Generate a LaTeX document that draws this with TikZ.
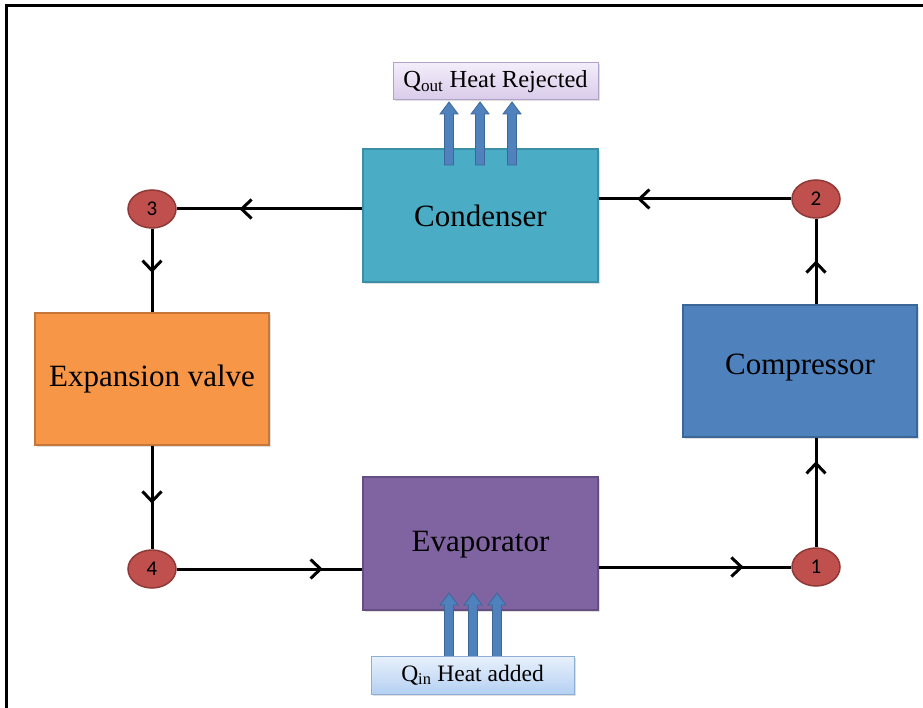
\documentclass[tikz,border=0pt]{standalone}
\usepackage{fontspec}
\setmainfont{Liberation Serif}
\newfontfamily\numfont{Carlito}
\usetikzlibrary{arrows.meta,decorations.markings,shadows,shapes.geometric}
\definecolor{condfill}{HTML}{4BACC6}
\definecolor{condline}{HTML}{3A8FA6}
\definecolor{compfill}{HTML}{4F81BD}
\definecolor{compline}{HTML}{3B6698}
\definecolor{expfill}{HTML}{F79646}
\definecolor{expline}{HTML}{C7763A}
\definecolor{evapfill}{HTML}{8064A2}
\definecolor{evapline}{HTML}{654E82}
\definecolor{ptfill}{HTML}{C0504D}
\definecolor{ptline}{HTML}{8E3A38}
\definecolor{qoutA}{HTML}{F3EDFA}
\definecolor{qoutB}{HTML}{D8CBEA}
\definecolor{qoutline}{HTML}{B3A2C7}
\definecolor{qinA}{HTML}{E8F1FC}
\definecolor{qinB}{HTML}{B5D0F2}
\definecolor{qinline}{HTML}{8EAED6}
\definecolor{harrow}{HTML}{4F81BD}
\definecolor{harrowline}{HTML}{3D6796}
\tikzset{
  unitbox/.style={draw, line width=1.2pt, minimum width=235pt, minimum height=133pt,
    font=\fontsize{31}{36}\selectfont, drop shadow={shadow xshift=2pt, shadow yshift=-2pt, opacity=0.25}},
  pt/.style={ellipse, draw=ptline, fill=ptfill, line width=1.5pt, minimum width=48pt, minimum height=38pt,
    inner sep=0pt, font=\numfont\fontsize{21}{24}\selectfont},
  qbox/.style={draw, line width=1pt, inner sep=0pt,
    drop shadow={shadow xshift=1.5pt, shadow yshift=-1.5pt, opacity=0.25}},
  flow/.style={line width=3pt, postaction={decorate},
    decoration={markings, mark=at position #1 with {\arrow{Straight Barb[length=10pt,width=19pt,line width=3pt]}}}},
  heatarrow/.style={fill=harrow, draw=harrowline, line width=0.8pt}
}
\begin{document}
\begin{tikzpicture}[x=1pt,y=-1pt]
\useasboundingbox (0,0) rectangle (923,708);
\fill[white] (0,0) rectangle (923,708);
\draw[line width=3pt] (6,720) -- (6,6) -- (940,6);

% main units
\node[unitbox, fill=condfill, draw=condline] (cond) at (480.5,215.5) {Condenser};
\node[unitbox, fill=compfill, draw=compline, minimum width=234pt, minimum height=132pt, text depth=14pt] (comp) at (800,371) {Compressor};
\node[unitbox, fill=expfill, draw=expline, minimum width=234pt, minimum height=132pt] (exp) at (152,379) {Expansion valve};
\node[unitbox, fill=evapfill, draw=evapline, text depth=4pt] (evap) at (480.5,543.5) {Evaporator};

% state points
\node[pt] (p3) at (152,209) {3};
\node[pt] (p2) at (816,199) {2};
\node[pt] (p4) at (152,569) {4};
\node[pt] (p1) at (816,567) {1};

% flow lines
\draw[flow=123pt] (p3 -| cond.west) -- (p3.east);
\draw[flow=154pt] (p2.west) -- (p2 -| cond.east);
\draw[flow=44pt] (p3.south) -- (exp.north);
\draw[flow=58pt] (exp.south) -- (p4.north);
\draw[flow=146pt] (p4.east) -- (p4 -| evap.west);
\draw[flow=145pt] (p1 -| evap.east) -- (p1.west);
\draw[flow=86pt] (p1.north) -- (p1 |- comp.south);
\draw[flow=44pt] (p2 |- comp.north) -- (p2.south);

% heat rejected arrows
\foreach \x in {449,480,512}
  \draw[heatarrow] (\x-4.5,165) -- (\x-4.5,114) -- (\x-9,114) -- (\x,102) -- (\x+9,114) -- (\x+4.5,114) -- (\x+4.5,165) -- cycle;
\node[qbox, draw=qoutline, top color=qoutA, bottom color=qoutB, minimum width=205pt, minimum height=37pt,
  font=\fontsize{24.5}{28}\selectfont] (qout) at (495.5,81.5)
  {Q\textsubscript{out} Heat Rejected};

% heat added arrows
\foreach \x in {449,473,497}
  \draw[heatarrow] (\x-4.5,657) -- (\x-4.5,605) -- (\x-9,605) -- (\x,593) -- (\x+9,605) -- (\x+4.5,605) -- (\x+4.5,657) -- cycle;
\node[qbox, draw=qinline, top color=qinA, bottom color=qinB, minimum width=203pt, minimum height=38pt,
  font=\fontsize{23.5}{27}\selectfont] (qin) at (472.5,675)
  {Q\textsubscript{in} Heat added};
\end{tikzpicture}
\end{document}
